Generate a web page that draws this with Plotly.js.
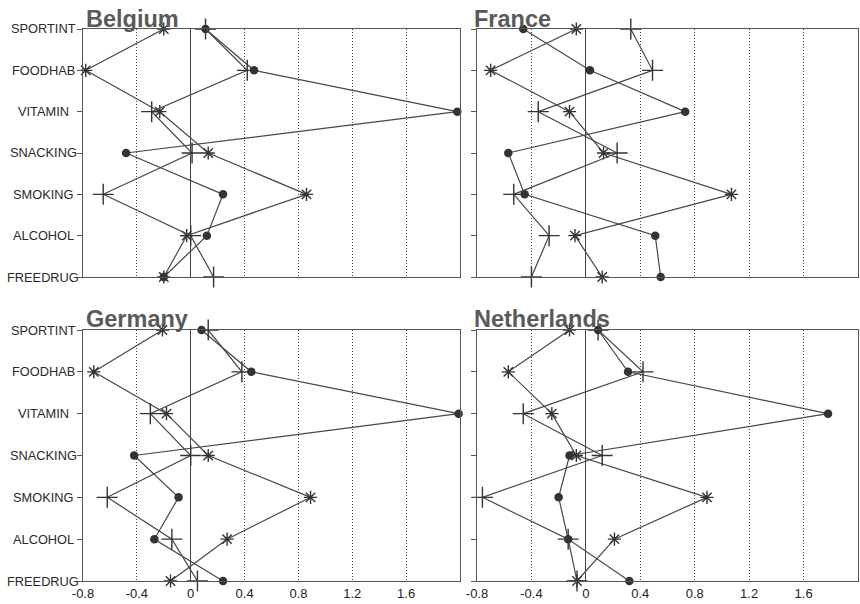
<!DOCTYPE html>
<html>
<head>
<meta charset="utf-8">
<script src="https://cdn.plot.ly/plotly-3.0.1.min.js"></script>
<style>html,body{margin:0;padding:0;background:#fff;}#chart{width:860px;height:604px;}</style>
</head>
<body>
<div id="chart"></div>
<script>
// ---- data ----
const categories = ['SPORTINT','FOODHAB','VITAMIN','SNACKING','SMOKING','ALCOHOL','FREEDRUG'];
const countries = ['Belgium','France','Germany','Netherlands'];
const xTickVals = [-0.8,-0.4,0,0.4,0.8,1.2,1.6,2];
const xTickText = ['-0.8','-0.4','0','0.4','0.8','1.2','1.6','2'];

const belgiumCircle = [0.11, 0.47, 1.98, -0.48, 0.24, 0.12, -0.20];
const belgiumStar   = [-0.20, -0.78, -0.23, 0.13, 0.86, -0.03, -0.20];
const belgiumPlus   = [0.11, 0.42, -0.29, 0.01, -0.65, 0.00, 0.17];

const franceCircle = [-0.46, 0.03, 0.73, -0.57, -0.45, 0.51, 0.55];
const franceStar   = [-0.07, -0.70, -0.12, 0.13, 1.07, -0.08, 0.12];
const francePlus   = [0.33, 0.49, -0.35, 0.23, -0.53, -0.27, -0.40];

const germanyCircle = [0.08, 0.45, 1.99, -0.42, -0.09, -0.27, 0.24];
const germanyStar   = [-0.21, -0.72, -0.18, 0.13, 0.89, 0.27, -0.15];
const germanyPlus   = [0.13, 0.38, -0.30, 0.00, -0.62, -0.14, 0.05];

const netherlandsCircle = [0.09, 0.31, 1.78, -0.12, -0.20, -0.13, 0.32];
const netherlandsStar   = [-0.12, -0.57, -0.25, -0.07, 0.89, 0.21, -0.065];
const netherlandsPlus   = [0.09, 0.42, -0.46, 0.12, -0.76, -0.13, -0.065];

const panelSeries = [
  [belgiumCircle, belgiumStar, belgiumPlus],
  [franceCircle, franceStar, francePlus],
  [germanyCircle, germanyStar, germanyPlus],
  [netherlandsCircle, netherlandsStar, netherlandsPlus]
];

// ---- styles ----
const W = 860, H = 604;
const lineColor = '#474747';
const markerStyles = [
  {symbol:'circle', size:8.5, color:'#333', line:{width:0}},
  {symbol:'asterisk-open', size:11, color:'#333', line:{width:1.4, color:'#333'}},
  {symbol:'cross-thin-open', size:15, color:'#333', line:{width:1.4, color:'#333'}}
];
const seriesNames = ['circle','star','plus'];

const xDomL = [83/W, 460/W], xDomR = [477/W, 858/W];
const yDomT = [1-277/H, 1-29/H], yDomB = [1-581/H, 1-330/H];
const domains = [[xDomL,yDomT],[xDomR,yDomT],[xDomL,yDomB],[xDomR,yDomB]];

const traces = [];
panelSeries.forEach((series, p) => {
  series.forEach((vals, s) => {
    traces.push({
      type:'scatter', mode:'lines+markers',
      name: countries[p] + ' ' + seriesNames[s],
      x: vals, y: categories,
      xaxis: 'x' + (p+1), yaxis: 'y' + (p+1),
      line:{color:lineColor, width:1.2},
      marker: markerStyles[s],
      cliponaxis:false, showlegend:false, hoverinfo:'x+y'
    });
  });
});

const layout = {
  width: W, height: H,
  margin:{l:0,r:0,t:0,b:0},
  paper_bgcolor:'#fff', plot_bgcolor:'#fff',
  font:{family:'Liberation Sans, Arial, sans-serif', color:'#222'},
  showlegend:false,
  annotations:[]
};

for (let p = 0; p < 4; p++) {
  const xa = 'xaxis' + (p+1), ya = 'yaxis' + (p+1);
  const bottom = p >= 2;
  const left = p % 2 === 0;
  layout[xa] = {
    domain: domains[p][0], anchor: 'y' + (p+1),
    range:[-0.8, 2], tickvals: xTickVals,
    ticktext: (bottom && left) ? xTickText.map((t,i)=> i===xTickText.length-1 ? '' : t) : xTickText,
    showticklabels: bottom, ticks:'',
    tickfont:{size:13, color:'#222'},
    showgrid:true, gridcolor:'#444', griddash:'1px,2px', gridwidth:1,
    zeroline:true, zerolinecolor:'#444', zerolinewidth:1.2,
    showline:true, mirror:true, linecolor:'#555', linewidth:1.3,
    fixedrange:true
  };
  layout[ya] = {
    domain: domains[p][1], anchor: 'x' + (p+1),
    type:'category', categoryorder:'array', categoryarray: categories,
    range:[6, 0],
    ticks:'outside', ticklen:5, tickcolor:'#555', tickwidth:1,
    showticklabels:false, showgrid:false, zeroline:false,
    showline:true, mirror:true, linecolor:'#555', linewidth:1.3,
    fixedrange:true
  };
  // country titles
  layout.annotations.push({
    text:'<b>' + countries[p] + '</b>',
    xref:'paper', yref:'paper',
    x: (left ? 84 : 472)/W, xanchor:'left',
    y: 1 - (bottom ? 334 : 34)/H, yanchor:'bottom',
    showarrow:false,
    font:{size:23.5, color:'#5a5a5a', family:'Liberation Sans, Arial, sans-serif'}
  });
  // category labels on left panels
  if (left) {
    categories.forEach((c, i) => {
      layout.annotations.push({
        text:c, xref:'paper', yref:'y' + (p+1),
        x: 43/W, xanchor:'center', y: i, yanchor:'middle',
        showarrow:false,
        font:{size:12.8, color:'#2a2a2a', family:'Liberation Sans, Arial, sans-serif'}
      });
    });
  }
}

Plotly.newPlot('chart', traces, layout, {displayModeBar:false, staticPlot:true});
</script>
</body>
</html>
